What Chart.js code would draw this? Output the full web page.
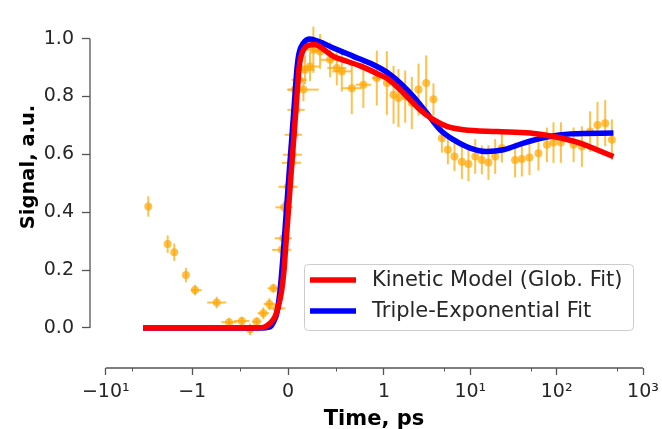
<!DOCTYPE html>
<html>
<head>
<meta charset="utf-8">
<script src="https://cdn.jsdelivr.net/npm/chart.js@4.4.1/dist/chart.umd.min.js"></script>
<style>
  html, body { margin: 0; padding: 0; background: #fff; }
  #wrap { width: 662px; height: 429px; }
</style>
</head>
<body>
<div id="wrap"><canvas id="myChart" width="662" height="429"></canvas></div>
<script>
// measured points: time (ps), signal (a.u.) and their error bars
const obsTime = [-3.22, -1.92, -1.61, -1.18, -0.97, -0.744, -0.615, -0.483, -0.396, -0.327,
  -0.258, -0.195, -0.153, -0.118, -0.066, -0.049, -0.042, 0.0, 0.035, 0.045,
  0.055, 0.083, 0.070, 0.115, 0.160, 0.177, 0.229, 0.264, 0.334, 0.438,
  0.508, 0.560, 0.664, 0.785, 0.925, 1.08, 1.29, 1.47, 1.76, 2.10,
  2.51, 3.08, 3.74, 4.68, 5.49, 6.55, 7.98, 9.51, 11.4, 13.6,
  16.2, 19.4, 23.2, 33.0, 39.5, 48.4, 61.5, 77.1, 91.9, 112,
  157, 196, 244, 297, 365, 436];
const obsSignal = [0.420, 0.290, 0.262, 0.183, 0.131, 0.088, 0.020, 0.024, -0.005, 0.022,
  0.051, 0.083, 0.137, 0.068, 0.270, 0.310, 0.417, 0.488, 0.571, 0.599,
  0.668, 0.754, 0.824, 0.858, 0.824, 0.893, 0.904, 0.962, 0.956, 0.927,
  0.899, 0.887, 0.829, 0.841, 0.864, 0.847, 0.806, 0.795, 0.800, 0.778,
  0.824, 0.847, 0.791, 0.656, 0.616, 0.593, 0.575, 0.567, 0.593, 0.581,
  0.572, 0.593, 0.622, 0.581, 0.584, 0.589, 0.604, 0.633, 0.641, 0.641,
  0.633, 0.627, 0.679, 0.702, 0.708, 0.651];
const obsTimeErr = [0, 0, 0, 0, 0.07, 0.10, 0.08, 0.08, 0.02, 0.05,
  0.06, 0.06, 0.06, 0.09, 0.10, 0.09, 0.09, 0.10, 0.10, 0.10,
  0.09, 0.09, 0.08, 0.08, 0.16, 0.10, 0.10, 0.08, 0.08, 0.10,
  0.10, 0.10, 0.10, 0.08, 0.05, 0, 0, 0, 0, 0,
  0, 0, 0, 0, 0, 0, 0, 0, 0, 0,
  0, 0, 0, 0, 0, 0, 0, 0, 0, 0,
  0, 0, 0, 0, 0, 0];
const obsSignalErr = [0.035, 0.030, 0.030, 0.025, 0.018, 0.020, 0.015, 0.015, 0.020, 0.015,
  0.020, 0.020, 0.015, 0.020, 0.020, 0.020, 0.020, 0.020, 0.020, 0.020,
  0.020, 0.020, 0.020, 0.030, 0.040, 0.050, 0.050, 0.080, 0.060, 0.060,
  0.060, 0.070, 0.090, 0.080, 0.095, 0.110, 0.100, 0.100, 0.090, 0.090,
  0.090, 0.095, 0.055, 0.050, 0.050, 0.050, 0.060, 0.060, 0.060, 0.050,
  0.060, 0.060, 0.050, 0.060, 0.060, 0.060, 0.060, 0.060, 0.070, 0.070,
  0.060, 0.070, 0.070, 0.080, 0.080, 0.070];

// kinetic model (global fit)
const modelTime = [-3.71, -1.0, -0.396, -0.258, -0.188, -0.136, -0.101, -0.066, -0.042, -0.031,
  0.0, 0.031, 0.063, 0.094, 0.115, 0.136, 0.167, 0.219, 0.282, 0.351,
  0.472, 0.612, 0.751, 0.925, 1.125, 1.84, 2.62, 3.74, 5.35, 8.32,
  20.3, 49.3, 92, 187, 292, 455];
const modelSignal = [0, 0, 0, 0.002, 0.016, 0.039, 0.074, 0.131, 0.200, 0.250,
  0.390, 0.530, 0.670, 0.810, 0.900, 0.940, 0.965, 0.978, 0.980, 0.968,
  0.939, 0.922, 0.906, 0.880, 0.860, 0.800, 0.754, 0.720, 0.697, 0.685,
  0.679, 0.674, 0.662, 0.639, 0.616, 0.593];

// triple-exponential fit
const expTime = [-3.71, -1.0, -0.3, -0.188, -0.153, -0.118, -0.083, -0.052, -0.021, 0.010,
  0.042, 0.073, 0.094, 0.115, 0.160, 0.229, 0.316, 0.472, 0.681, 0.890,
  1.125, 1.54, 2.19, 3.13, 4.47, 6.37, 9.95, 15.5, 24.2, 41.3,
  77.1, 144, 455];
const expSignal = [0, 0, 0, 0.004, 0.020, 0.050, 0.131, 0.250, 0.390, 0.530,
  0.670, 0.810, 0.900, 0.950, 0.985, 0.999, 0.991, 0.968, 0.939, 0.910,
  0.881, 0.847, 0.800, 0.743, 0.685, 0.651, 0.622, 0.610, 0.616, 0.639,
  0.660, 0.671, 0.674];

const xTickValues = [-10, -1, 0, 1, 10, 100, 1000];
const xTickLabels = ['\u221210\u00b9', '\u22121', '0', '1', '10\u00b9', '10\u00b2', '10\u00b3'];
const xMinorTicks = [-5, -0.5, 0.5, 5, 50, 500];
const yTickValues = [0, 0.2, 0.4, 0.6, 0.8, 1.0];

const seriesLabels = ['Kinetic Model (Glob. Fit)', 'Triple-Exponential Fit'];
const xTitle = 'Time, ps';
const yTitle = 'Signal, a.u.';

// symmetric log scale, linear between -1 and 1 (like matplotlib symlog)
const LINSCALE = 1 / (1 - 1 / 10);
function symlog(v) {
    const a = Math.abs(v);
    return a <= 1 ? v * LINSCALE : Math.sign(v) * (LINSCALE + Math.log10(a));
}
function symexp(t) {
    const a = Math.abs(t);
    return a <= LINSCALE ? t / LINSCALE : Math.sign(t) * Math.pow(10, a - LINSCALE);
}

class SymlogScale extends Chart.LinearScale {
    static id = 'symlog';
    static defaults = {};
    configure() {
        super.configure();
        this._tStart = symlog(this.min);
        this._tRange = symlog(this.max) - this._tStart;
    }
    getPixelForValue(value) {
        return this.getPixelForDecimal((symlog(value) - this._tStart) / this._tRange);
    }
    getValueForPixel(pixel) {
        return symexp(this._tStart + this.getDecimalForPixel(pixel) * this._tRange);
    }
}
Chart.register(SymlogScale);

Chart.defaults.font.family = "'DejaVu Sans', sans-serif";
Chart.defaults.color = '#262626';

const toPoints = (xs, ys) => xs.map((t, i) => ({ x: t, y: ys[i] }));

const POINT_COLOR = 'rgba(255, 165, 0, 0.7)';
const SPINE_COLOR = '#555555';

// error bars, drawn under all datasets
const errorBars = {
    id: 'errorBars',
    beforeDatasetsDraw(chart) {
        const { ctx, scales: { x, y } } = chart;
        ctx.save();
        ctx.strokeStyle = POINT_COLOR;
        ctx.lineWidth = 2;
        obsTime.forEach((t, i) => {
            const px = x.getPixelForValue(t);
            const py = y.getPixelForValue(obsSignal[i]);
            if (obsSignalErr[i]) {
                ctx.beginPath();
                ctx.moveTo(px, y.getPixelForValue(obsSignal[i] - obsSignalErr[i]));
                ctx.lineTo(px, y.getPixelForValue(obsSignal[i] + obsSignalErr[i]));
                ctx.stroke();
            }
            if (obsTimeErr[i]) {
                ctx.beginPath();
                ctx.moveTo(x.getPixelForValue(t - obsTimeErr[i]), py);
                ctx.lineTo(x.getPixelForValue(t + obsTimeErr[i]), py);
                ctx.stroke();
            }
        });
        ctx.restore();
    }
};

// trimmed spines, minor ticks and axis titles
const spines = {
    id: 'spines',
    afterDraw(chart) {
        const { ctx, chartArea, scales: { x, y } } = chart;
        ctx.save();
        ctx.strokeStyle = SPINE_COLOR;
        ctx.lineWidth = 1.3;
        ctx.beginPath();
        ctx.moveTo(x.getPixelForValue(xTickValues[0]), chartArea.bottom);
        ctx.lineTo(x.getPixelForValue(xTickValues[xTickValues.length - 1]), chartArea.bottom);
        ctx.moveTo(chartArea.left, y.getPixelForValue(yTickValues[0]));
        ctx.lineTo(chartArea.left, y.getPixelForValue(yTickValues[yTickValues.length - 1]));
        ctx.stroke();
        ctx.lineWidth = 1;
        ctx.beginPath();
        xMinorTicks.forEach(v => {
            const px = Math.round(x.getPixelForValue(v)) + 0.5;
            ctx.moveTo(px, chartArea.bottom);
            ctx.lineTo(px, chartArea.bottom + 3.5);
        });
        ctx.stroke();

        // axis titles (matplotlib puts these a bit off the scale centres)
        ctx.fillStyle = '#000';
        ctx.textAlign = 'center';
        ctx.textBaseline = 'alphabetic';
        ctx.font = "bold 21px 'DejaVu Sans'";
        ctx.fillText(xTitle, chartArea.left + 284, chartArea.bottom + 57);
        ctx.translate(chartArea.left - 61, chartArea.top + 163);
        ctx.rotate(-Math.PI / 2);
        ctx.font = "bold 19.5px 'DejaVu Sans'";
        ctx.textBaseline = 'middle';
        ctx.fillText(yTitle, 0, 0);
        ctx.restore();
    }
};

// legend box in the lower right of the plot
const boxLegend = {
    id: 'boxLegend',
    afterDraw(chart) {
        const { ctx, chartArea } = chart;
        const left = chartArea.right - 339, top = 264, w = 329, h = 66;
        ctx.save();
        ctx.fillStyle = 'rgba(255,255,255,0.8)';
        ctx.strokeStyle = '#cccccc';
        ctx.lineWidth = 1;
        ctx.beginPath();
        ctx.roundRect(left + 0.5, top + 0.5, w, h, 4);
        ctx.fill();
        ctx.stroke();
        ctx.font = "21px 'DejaVu Sans'";
        ctx.textBaseline = 'middle';
        ctx.fillStyle = '#262626';
        [0, 1].forEach(i => {
            const ds = chart.data.datasets[i];
            const ly = top + 16 + i * 31;
            ctx.strokeStyle = ds.borderColor;
            ctx.lineWidth = 5.5;
            ctx.beginPath();
            ctx.moveTo(left + 6, ly);
            ctx.lineTo(left + 52, ly);
            ctx.stroke();
            ctx.fillText(ds.label, left + 68, ly + 1);
        });
        ctx.restore();
    }
};

const ctx = document.getElementById('myChart').getContext('2d');

new Chart(ctx, {
    type: 'scatter',
    data: {
        datasets: [{
            label: seriesLabels[0],
            data: toPoints(modelTime, modelSignal),
            showLine: true,
            borderColor: '#ff0000',
            borderWidth: 5.5,
            pointRadius: 0,
            cubicInterpolationMode: 'monotone'
        }, {
            label: seriesLabels[1],
            data: toPoints(expTime, expSignal),
            showLine: true,
            borderColor: '#0000ff',
            borderWidth: 5.5,
            pointRadius: 0,
            cubicInterpolationMode: 'monotone'
        }, {
            label: 'data',
            data: toPoints(obsTime, obsSignal),
            backgroundColor: POINT_COLOR,
            borderWidth: 0,
            pointRadius: 4
        }]
    },
    options: {
        responsive: false,
        animation: false,
        layout: { padding: { top: 4, right: 19, left: 0, bottom: 0 } },
        plugins: {
            legend: { display: false },
            tooltip: { enabled: false }
        },
        scales: {
            x: {
                type: 'symlog',
                position: 'bottom',
                min: -15.24,
                max: 1000,
                bounds: 'data',
                afterBuildTicks: s => { s.ticks = xTickValues.map(v => ({ value: v })); },
                afterFit: s => { s.height = 61; s.paddingLeft = 0; s.paddingRight = 0; },
                ticks: {
                    autoSkip: false,
                    maxRotation: 0,
                    padding: 6,
                    font: { size: 19 },
                    callback: (v, i) => xTickLabels[i]
                },
                grid: { drawOnChartArea: false, tickLength: 7, tickColor: SPINE_COLOR, tickWidth: 1.3 },
                border: { display: false }
            },
            y: {
                position: 'left',
                min: -0.1384,
                max: 1.12,
                afterBuildTicks: s => { s.ticks = yTickValues.map(v => ({ value: v })); },
                afterFit: s => { s.width = 90; s.paddingTop = 0; s.paddingBottom = 0; },
                ticks: {
                    padding: 8,
                    font: { size: 19 },
                    callback: v => v.toFixed(1)
                },
                grid: { drawOnChartArea: false, tickLength: 8, tickColor: SPINE_COLOR, tickWidth: 1.3 },
                border: { display: false }
            }
        }
    },
    plugins: [errorBars, spines, boxLegend]
});
</script>
</body>
</html>
